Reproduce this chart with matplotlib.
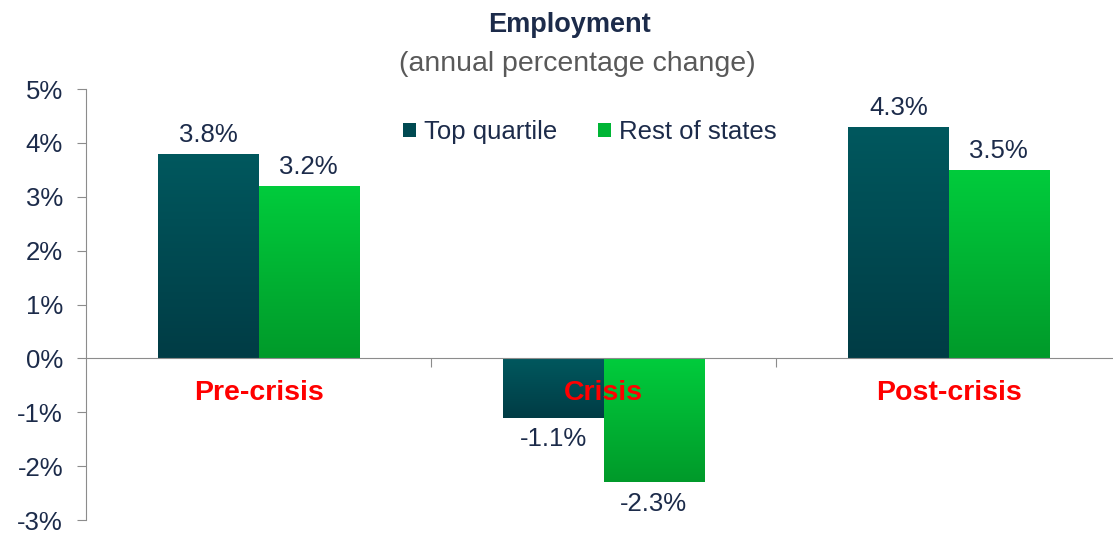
import numpy as np
import matplotlib.pyplot as plt
from matplotlib.colors import LinearSegmentedColormap

plt.rcParams['font.family'] = ['Liberation Sans', 'DejaVu Sans']

categories = ['Pre-crisis', 'Crisis', 'Post-crisis']
top_quartile = [3.8, -1.1, 4.3]
rest_of_states = [3.2, -2.3, 3.5]
yticks = [-3, -2, -1, 0, 1, 2, 3, 4, 5]

navy = '#1c2b4a'
teal_cmap = LinearSegmentedColormap.from_list('teal', ['#003c45', '#00585e'])
green_cmap = LinearSegmentedColormap.from_list('green', ['#009a2a', '#00cc3c'])

fig = plt.figure(figsize=(11.13, 5.34), dpi=100)
ax = fig.add_axes([86 / 1113, 14 / 534, 1035 / 1113, 431 / 534])

x = np.arange(len(categories))
w = 0.29
b1 = ax.bar(x - w / 2, top_quartile, w, color='#004a52', label='Top quartile', zorder=2)
b2 = ax.bar(x + w / 2, rest_of_states, w, color='#00b535', label='Rest of states', zorder=2)

# vertical gradient fill clipped to each bar
grad = np.linspace(0, 1, 256).reshape(-1, 1)
for bars, cmap in [(b1, teal_cmap), (b2, green_cmap)]:
    for p in bars:
        x0, y0 = p.get_x(), p.get_y()
        x1, y1 = x0 + p.get_width(), y0 + p.get_height()
        lo, hi = min(y0, y1), max(y0, y1)
        im = ax.imshow(grad, cmap=cmap, aspect='auto', origin='lower',
                       extent=[x0, x1, lo, hi], zorder=3)
        im.set_clip_path(p)

ax.set_xlim(-0.5, 2.5)
ax.set_ylim(-3, 5)

# value labels
for bars, vals in [(b1, top_quartile), (b2, rest_of_states)]:
    for p, v in zip(bars, vals):
        cx = p.get_x() + p.get_width() / 2
        if v >= 0:
            ax.annotate(f'{v:.1f}%', (cx, v), xytext=(0, 5), textcoords='offset points',
                        ha='center', va='bottom', fontsize=18.5, color=navy)
        else:
            ax.annotate(f'{v:.1f}%', (cx, v), xytext=(0, -7), textcoords='offset points',
                        ha='center', va='top', fontsize=18.5, color=navy)

# category labels
for i, c in enumerate(categories):
    ax.text(i, -0.65, c, ha='center', va='center', fontsize=20.5, fontweight='bold',
            color='#ff0000', zorder=5)

ax.set_yticks(yticks)
ax.set_yticklabels([f'{t}%' for t in yticks], fontsize=18.5, color=navy)
ax.tick_params(axis='y', length=6.5, color='#8c8c8c', pad=10)
ax.set_xticks([0.5, 1.5])
ax.set_xticklabels([])
ax.tick_params(axis='x', length=6.5, color='#8c8c8c', direction='out')

for s in ['top', 'right']:
    ax.spines[s].set_visible(False)
ax.spines['left'].set_color('#8c8c8c')
ax.spines['bottom'].set_position(('data', 0))
ax.spines['bottom'].set_color('#8c8c8c')
ax.spines['bottom'].set_zorder(4)

leg = ax.legend(loc='center', bbox_to_anchor=(0.487, 0.90), ncol=2, frameon=False,
                fontsize=18.5, handlelength=0.5, handleheight=0.5, handletextpad=0.3,
                columnspacing=1.6)
for t in leg.get_texts():
    t.set_color(navy)

fig.text(0.512, 0.954, 'Employment', ha='center', va='center', fontsize=19.5,
         fontweight='bold', color=navy)
fig.text(0.519, 0.880, '(annual percentage change)', ha='center', va='center',
         fontsize=20.5, color='#595959')

fig.savefig('out.png', dpi=100)
